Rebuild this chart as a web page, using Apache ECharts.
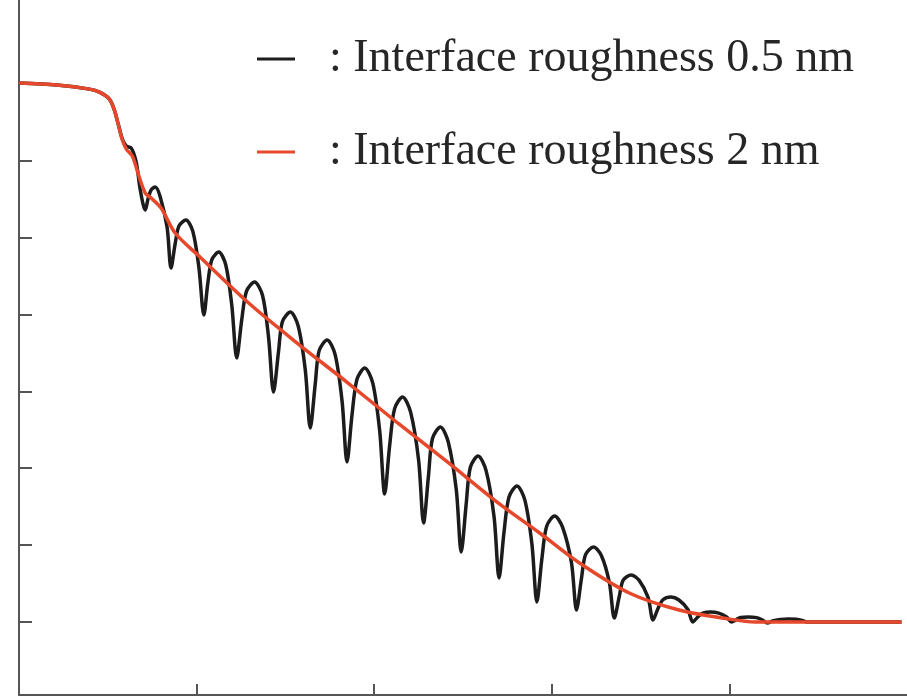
<!DOCTYPE html>
<html>
<head>
<meta charset="utf-8">
<script src="https://cdn.jsdelivr.net/npm/echarts@6/dist/echarts.min.js"></script>
<style>
  html, body { margin: 0; padding: 0; background: #fff; }
  #chart { width: 907px; height: 698px; }
</style>
</head>
<body>
<div id="chart"></div>
<script>
// x: angle-like axis (ticks every 1), y: log10 reflectivity (ticks every decade)
const xTicks = [0, 1, 2, 3, 4];
const yTicks = [-7, -6, -5, -4, -3, -2, -1, 0];

const names = [': Interface roughness 0.5 nm', ': Interface roughness 2 nm'];

// roughness 0.5 nm (Kiessig fringes)
const roughX = [0, 0.213, 0.397, 0.453, 0.509, 0.537, 0.560, 0.582, 0.604, 0.632, 0.660, 0.683, 0.711,
  0.727, 0.744, 0.767, 0.795, 0.834, 0.856,
  0.879, 0.901, 0.940, 0.979, 1.013, 1.041,
  1.063, 1.086, 1.125, 1.164, 1.198, 1.226,
  1.254, 1.281, 1.326, 1.371, 1.405, 1.433,
  1.461, 1.483, 1.528, 1.572, 1.612, 1.640,
  1.668, 1.690, 1.735, 1.780, 1.819, 1.847,
  1.875, 1.903, 1.947, 1.992, 2.031, 2.059,
  2.087, 2.115, 2.160, 2.205, 2.250, 2.278,
  2.306, 2.328, 2.373, 2.417, 2.462, 2.490,
  2.518, 2.541, 2.585, 2.630, 2.675, 2.703,
  2.731, 2.759, 2.804, 2.848, 2.888, 2.916,
  2.944, 2.971, 3.016, 3.061, 3.111, 3.139,
  3.167, 3.190, 3.235, 3.279, 3.324, 3.352,
  3.380, 3.402, 3.447, 3.492, 3.542, 3.570,
  3.598, 3.626, 3.671, 3.716, 3.766, 3.794,
  3.822, 3.850, 3.895, 3.940, 3.984, 4.012,
  4.040, 4.063, 4.107, 4.152, 4.186, 4.214,
  4.242, 4.287, 4.331, 4.376, 4.410, 4.438,
  4.594, 4.969];
const roughY = [0.01, -0.017, -0.069, -0.108, -0.199, -0.342, -0.537, -0.719, -0.810, -0.836, -1.018, -1.382, -1.642,
  -1.493, -1.380, -1.343, -1.469, -1.870, -2.397,
  -2.085, -1.848, -1.772, -1.921, -2.390, -3.008,
  -2.598, -2.287, -2.189, -2.354, -2.878, -3.567,
  -3.073, -2.697, -2.579, -2.750, -3.294, -4.009,
  -3.489, -3.094, -2.969, -3.150, -3.723, -4.477,
  -3.905, -3.471, -3.333, -3.523, -4.126, -4.919,
  -4.308, -3.844, -3.697, -3.893, -4.516, -5.336,
  -4.705, -4.225, -4.074, -4.271, -4.893, -5.713,
  -5.089, -4.614, -4.464, -4.659, -5.277, -6.090,
  -5.466, -4.991, -4.841, -5.031, -5.635, -6.428,
  -5.830, -5.375, -5.231, -5.412, -5.986, -6.740,
  -6.181, -5.756, -5.622, -5.769, -6.233, -6.844,
  -6.434, -6.124, -6.025, -6.135, -6.486, -6.948,
  -6.668, -6.456, -6.389, -6.459, -6.681, -6.974,
  -6.824, -6.711, -6.675, -6.714, -6.838, -7.000,
  -6.935, -6.886, -6.870, -6.886, -6.935, -7.000,
  -6.968, -6.943, -6.935, -6.944, -6.974, -7.013,
  -6.987, -6.968, -6.961, -6.966, -6.981, -7.000,
  -7.0, -7.0];

// roughness 2 nm
const smoothX = [0, 0.213, 0.397, 0.453, 0.509, 0.537, 0.560, 0.582, 0.604, 0.638, 0.677, 0.711, 0.744,
  0.800, 0.879, 1.013, 1.293, 1.573, 1.853, 2.132, 2.412, 2.692, 2.932, 3.156, 3.436, 3.716, 3.996, 4.147, 4.969];
const smoothY = [0.01, -0.017, -0.069, -0.108, -0.199, -0.342, -0.537, -0.732, -0.849, -0.940, -1.213, -1.421, -1.486,
  -1.616, -1.941, -2.241, -2.852, -3.385, -3.892, -4.412, -4.919, -5.440, -5.843, -6.233, -6.623, -6.844, -6.961, -7.000, -7.000];

const pairs = (xs, ys) => xs.map((x, i) => [x, ys[i]]);

const axisColor = '#555555';

const chart = echarts.init(document.getElementById('chart'));
chart.setOption({
  animation: false,
  backgroundColor: '#ffffff',
  grid: { left: 19, right: -5.5, top: 0, bottom: 3 },
  legend: {
    orient: 'vertical',
    left: 252,
    top: 29,
    icon: 'rect',
    itemWidth: 38,
    itemHeight: 3,
    itemGap: 43,
    data: names,
    textStyle: {
      fontFamily: 'Liberation Serif',
      fontSize: 46,
      lineHeight: 50,
      color: '#262626',
      padding: [0, 0, 0, 29],
    },
  },
  xAxis: {
    type: 'value',
    min: 0,
    max: 5,
    interval: 1,
    axisLine: { show: true, onZero: false, lineStyle: { color: axisColor, width: 2 } },
    axisTick: { show: true, inside: true, length: 11, customValues: xTicks, lineStyle: { color: axisColor, width: 2 } },
    axisLabel: { show: false },
    splitLine: { show: false },
  },
  yAxis: {
    type: 'value',
    min: -7.95,
    max: 1.09,
    axisLine: { show: true, onZero: false, lineStyle: { color: axisColor, width: 2 } },
    axisTick: { show: true, inside: true, length: 13, customValues: yTicks, lineStyle: { color: axisColor, width: 2 } },
    axisLabel: { show: false },
    splitLine: { show: false },
  },
  series: [
    {
      name: names[0],
      type: 'line',
      data: pairs(roughX, roughY),
      symbol: 'none',
      smooth: 0.3,
      lineStyle: { color: '#1c1c1c', width: 3.5 },
      itemStyle: { color: '#1c1c1c' },
    },
    {
      name: names[1],
      type: 'line',
      data: pairs(smoothX, smoothY),
      symbol: 'none',
      smooth: 0.3,
      lineStyle: { color: '#e5482a', width: 3.5 },
      itemStyle: { color: '#e5482a' },
    },
  ],
});
</script>
</body>
</html>
